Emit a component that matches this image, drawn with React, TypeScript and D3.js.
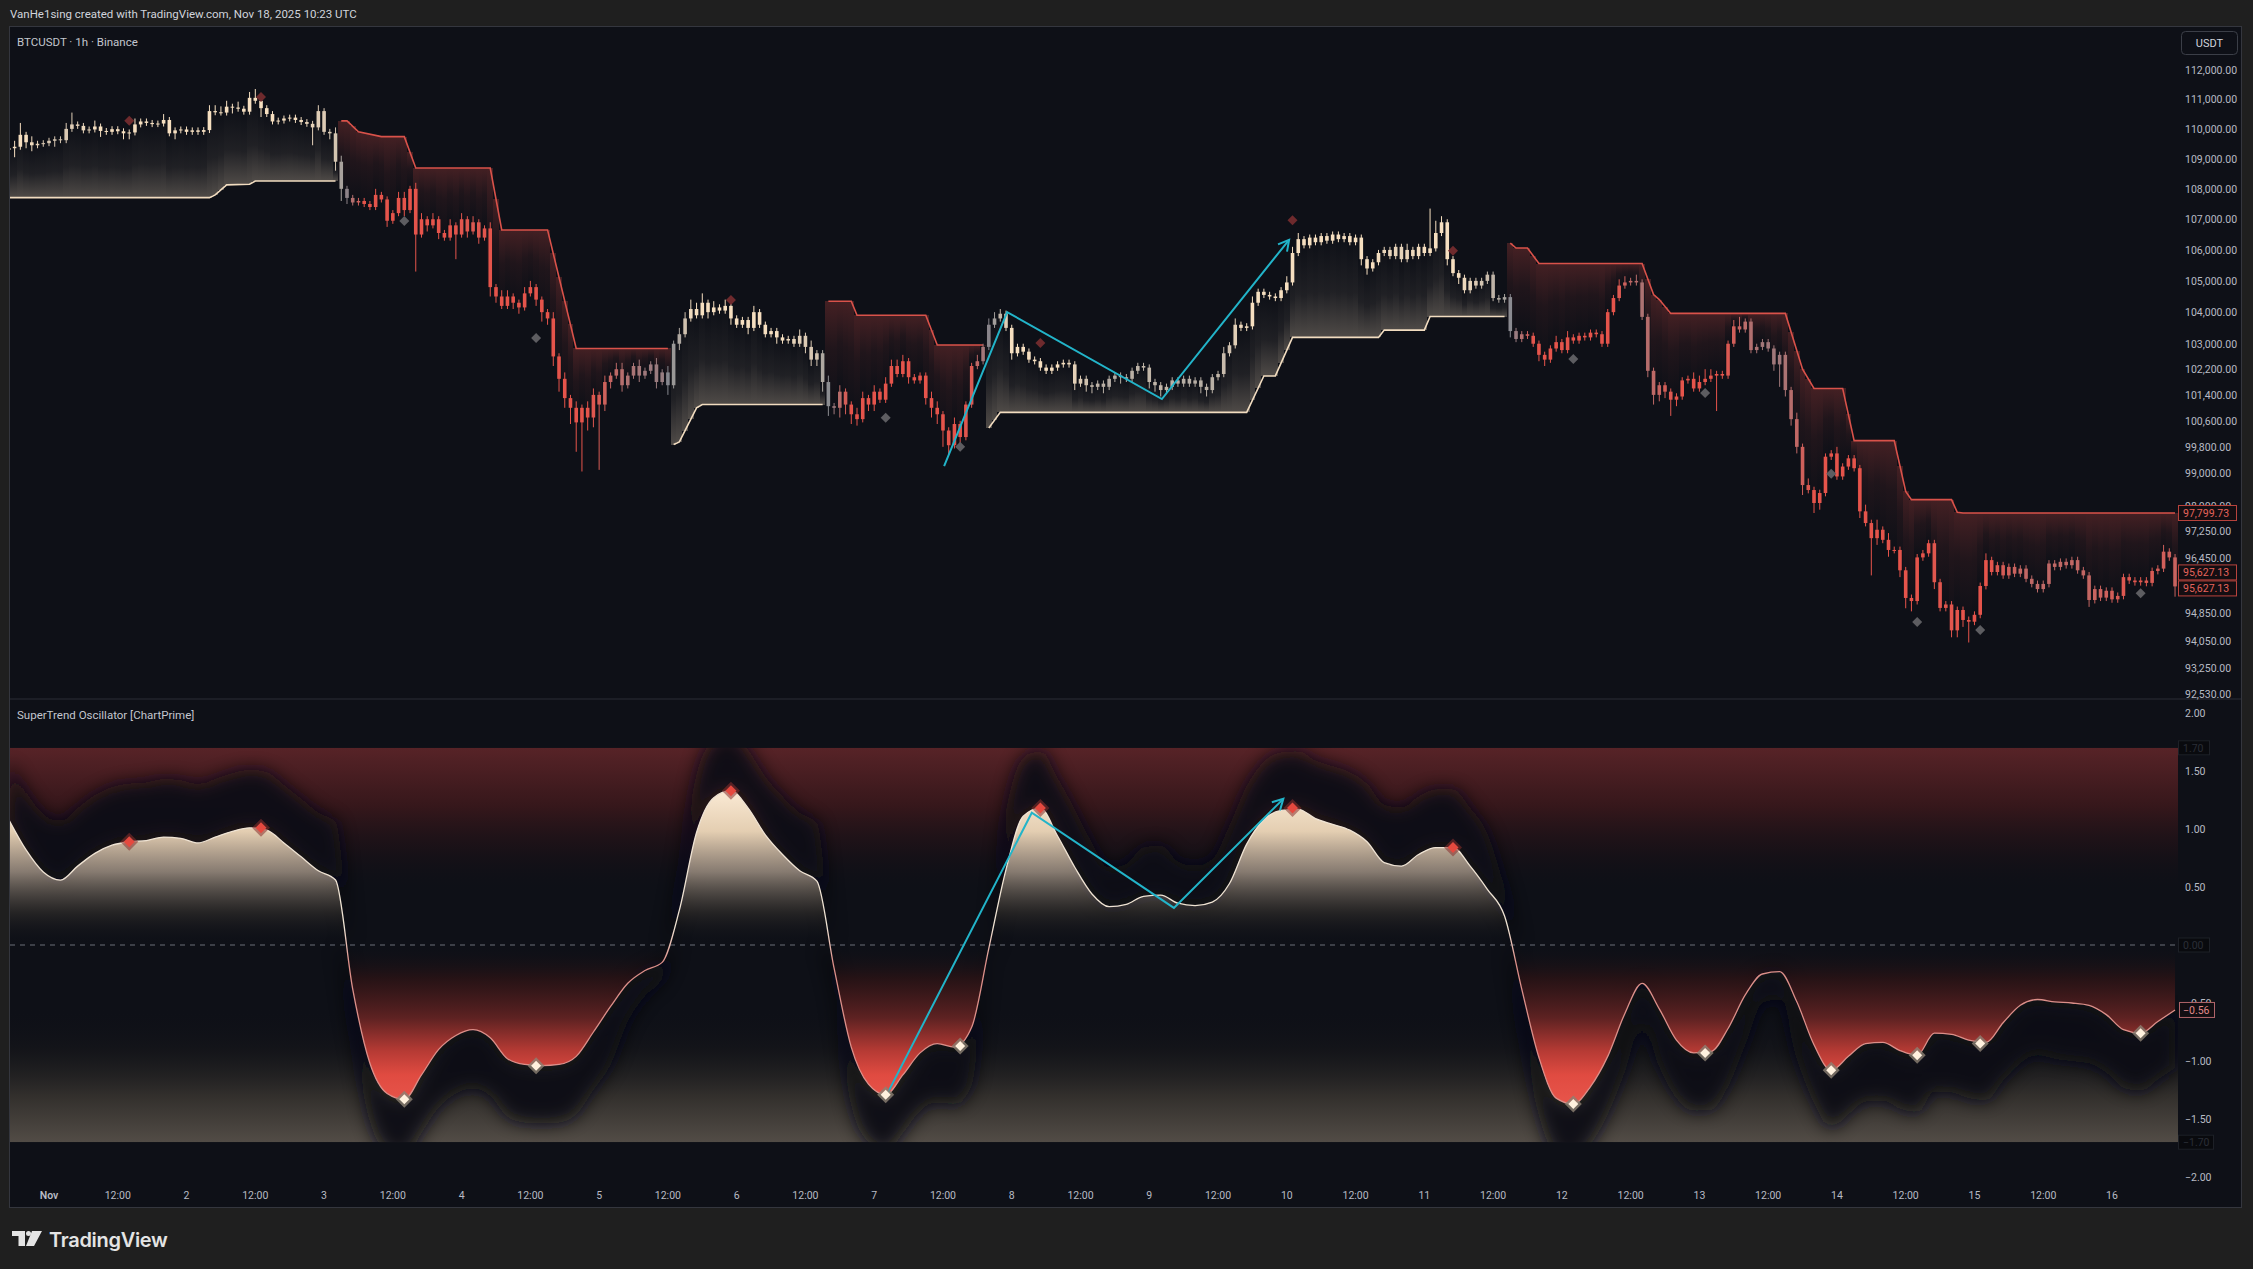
import * as d3 from 'd3';

// hourly bars, hour 0 = Nov 1 00:00
const FIRST_HOUR = -7;
const FIRST_OPEN = 109300;

const closes = [
  109350,109400,109800,109550,109450,109500,109520,109600,109650,109620,110000,110150,
  110100,109950,109980,110080,109930,109900,109990,109920,109850,109880,110150,110250,
  110200,110160,110180,110300,109850,109950,109980,109900,109950,109900,109960,110600,
  110560,110550,110750,110720,110680,110580,111050,110950,110700,110500,110250,110280,
  110350,110380,110300,110230,110170,110050,110600,109900,109850,108900,108000,107700,
  107550,107600,107500,107400,107800,107650,106950,107200,107700,107300,108000,106500,
  107000,106800,107000,106550,106400,106800,106500,107000,106600,106900,106400,106700,
  104800,104500,104200,104500,104300,104150,104600,104800,104400,104000,103800,102600,
  101900,101300,101000,100550,101000,100700,101400,101100,101800,102000,102200,101700,
  102000,102300,102000,102150,102350,101800,102100,101700,103000,103300,103800,104100,
  103900,104300,104000,104150,104050,104200,103800,103600,103750,103500,104000,103600,
  103300,103400,103200,103100,103150,103000,103250,102900,102500,102700,101800,101050,
  101000,101500,101100,100800,100650,101300,101100,101500,101250,101750,102300,102050,
  102450,101950,101850,102000,101300,101000,100800,100300,99850,100500,100100,101100,
  102300,102450,102900,103600,103800,103950,103500,102700,102900,102750,102500,102450,
  102250,102150,102250,102350,102400,102350,101750,101900,101700,101650,101750,101650,
  101900,102000,101950,101900,102150,102300,102250,101800,101700,101550,101650,101850,
  101750,101900,101750,101850,101650,101550,101950,102050,102700,102950,103600,103500,
  103550,104300,104650,104550,104500,104450,104700,104950,105900,106350,106150,106400,
  106250,106450,106300,106500,106350,106450,106250,106400,105700,105400,105600,105900,
  106000,105800,106100,105700,106000,105800,106100,105900,106050,106550,106900,105700,
  105250,105100,104700,105000,104850,105000,105200,104450,104400,104480,103400,103150,
  103300,103250,103000,102650,102500,102850,103050,102800,103200,103100,103250,103200,
  103350,103300,103000,104000,104450,104850,104950,105000,104950,103850,102150,101400,
  101700,101500,101250,101350,101850,101900,101600,101800,101900,102000,102050,102000,
  103000,103550,103450,103700,102800,102900,103050,102850,102350,102650,101550,100650,
  99800,98640,98490,98100,98400,99500,99600,98900,99200,99450,99150,97850,
  97500,97050,97300,97000,96700,96700,96100,95290,95200,96480,96600,96900,
  95750,95000,95100,94350,94940,94650,94600,94800,95640,96400,96050,96250,
  95950,96200,96000,96150,95850,95700,95550,95700,96300,96200,96350,96250,
  96400,96100,95950,95230,95550,95300,95500,95250,95350,95900,95800,95750,
  95800,95730,96080,96150,96650,96480,95627.13,
];

// wick length beyond the body, in hundreds of USD
const wickUp = [
  1,2,4,1,2,1,1,1,1,1,2,4, 1,1,1,2,1,1,1,1,1,1,2,1, 1,1,1,2,1,1,1,1,1,1,1,2,
  2,2,2,1,2,1,2,3,1,1,1,1, 1,1,1,1,1,1,2,1,1,2,2,1, 1,1,1,1,2,1,1,1,2,2,1,2,
  2,1,2,1,1,2,1,2,1,2,1,1, 2,1,2,2,1,1,2,2,1,1,1,2, 1,2,1,2,1,2,2,1,2,1,2,2,
  1,1,2,1,1,2,1,2,1,2,2,3, 2,3,1,2,1,2,1,1,1,1,2,1, 1,1,1,1,1,1,2,1,2,1,1,2,
  1,2,1,1,2,2,1,2,1,2,2,2, 2,1,1,1,1,2,2,1,1,2,1,1, 1,2,1,2,2,1.5,1,1,1,1,1,1,
  1,1,1,1,1,1,1,1,1,1,1,1, 1,1,1,1,1,1,1,1,1,1,1,1, 1,1,1,1,1,1,1,1,2,1,2,1,
  1,2,1,1,1,1,1,2,2,2,1,1, 1,1,1,1,1,1,1,1,1,1,1,1, 1,1,1,1,2,1,1,1,13,4,2,1,
  1,1,1,1,1,1,1,1,1,1,1,1, 1,1,1,1,1,1,2,1,2,1,1,1, 1,1,1,1,1,2,2,1,2,1,1,1,
  1,1,1,1,1,1,2,2,3,2,1,1, 1,2,3,1,1,1,1,1,1,1,1,1, 2,1,2,1,1,1,1,2,1,1,1,1,
  2,1,3,1,2,1,1,1,1,1,1,1, 1,1,1,1,1,1,1,1,1,2,1,1, 1,1,1,1,1,1,1,1,1,1,1,1,
  1,1,1,1,1,1,1,1,1,1,1,1, 1,1,1,1,2,1,1,
];
const wickDn = [
  2,3,1,2,2,1,1,1,2,1,1,1, 1,1,1,1,2,1,1,1,2,2,1,1, 1,1,1,1,1,2,1,1,1,1,1,1,
  1,1,1,2,1,1,1,1,3,1,1,1, 1,1,1,1,1,6,1,1,2,3,4,2, 1,1,1,1,1,1,2,1,1,2,1,12,
  1,2,1,2,1,1,8,1,2,1,2,1, 3,2,1,1,2,2,1,1,2,3,2,3, 4,3,5,9,15,4,3,20,2,2,1,2,
  1,1,2,1,1,2,1,3,1,2,1,1, 1,1,2,1,1,1,2,1,1,2,1,1, 1,1,2,1,1,1,1,2,2,2,3,3,
  2,3,3,3,2,1,2,2,1,1,1,1, 1,2,1,1,2,3,3,5,3,1,2,1, 1,1,1,1,1,1,1,2,1,1,1,1,
  1,1,1,1,1,1,2,1,2,2,1,2, 1,1,2,1,1,1,1,2,2,2,1,1, 1,1,1,1,2,2,1,1,1,1,1,1,
  1,1,1,1,1,1,1,1,1,1,1,1, 1,1,1,1,1,1,1,1,2,2,1,1, 1,1,1,1,1,1,1,1,1,1,1,2,
  1,2,1,1,1,1,1,1,1,1,2,1, 1,1,1,2,2,1,1,1,1,1,1,1, 1,1,1,1,1,1,1,1,1,1,2,3,
  2,2,5,2,1,1,1,1,1,1,11,1, 1,1,1,1,1,1,1,1,2,7,2,2, 2,3,1,3,2,1,1,1,1,1,1,2,
  1,11,2,1,2,1,2,3,3,1,1,1, 2,1,1,2,2,2,6,1,1,1,1,1, 1,1,1,1,1,1,1,1,1,1,1,1,
  1,1,1,2,1,1,1,1,1,1,1,1, 1,1,1,1,1,1,3,
];

// SuperTrend legs as [hour, price] vertices
const stBullA = [[-7,107710],[28,107710],[29,107800],[31,108130],[35,108150],[36,108260],[50,108260]];
const stBearA = [[51,110270],[52,110270],[54,109900],[58,109740],[62,109740],[64,108690],[77,108690],[79,106650],[87,106650],[92,102850],[108,102850]];
const stBullB = [[109,99870],[110,99950],[113,101000],[114,101100],[135,101100]];
const stBearB = [[136,104350],[140,104350],[141,103900],[153,103900],[155,102960],[163,102960]];
const stBullC = [[164,100380],[166,100860],[209,100860],[212,101990],[214,101990],[217,103200],[232,103200],[233,103430],[240,103430],[241,103860],[254,103860]];
const stBearC = [[255,106220],[256,106060],[258,106060],[260,105560],[278,105560],[280,104560],[281,104400],[283,103960],[303,103960],[306,102200],[308,101600],[313,101600],[315,99990],[322,99990],[324,98450],[325,98200],[332,98200],[333,97820],[334,97800],[371,97800]];

const stLegs = [
  { dir: 1, from: -7, to: 50, pts: stBullA },
  { dir: -1, from: 51, to: 108, pts: stBearA },
  { dir: 1, from: 109, to: 135, pts: stBullB },
  { dir: -1, from: 136, to: 163, pts: stBearB },
  { dir: 1, from: 164, to: 254, pts: stBullC },
  { dir: -1, from: 255, to: 371, pts: stBearC },
];

const peakMarks = [[14,110270],[37,111080],[119,104390],[173,103020],[217,106970],[245,105970]];
const troughMarks = [[62,106940],[85,103180],[146,100690],[159,99800],[266,102520],[289,101460],[311,98980],[326,94590],[337,94360],[365,95430]];
const priceZig = [[156.2,99215],[167.2,104002],[194.2,101270],[216.4,106330]];

// oscillator, one sample every 3 hours from hour -7
const OSC_FIRST_HOUR = -7;
const OSC_STEP = 3;
const oscValues = [
  1.08,0.82,0.63,0.56,0.68,0.79,0.86,0.89,0.90,0.93,0.92,0.88,0.93,0.98,1.01,0.99,
  0.88,0.76,0.64,0.56,-0.38,-1.02,-1.28,-1.33,-1.12,-0.90,-0.78,-0.73,-0.80,-0.98,-1.03,-1.04,
  -1.03,-0.96,-0.75,-0.53,-0.33,-0.22,-0.15,0.30,0.97,1.27,1.33,1.18,0.95,0.78,0.64,0.55,
  -0.20,-0.88,-1.20,-1.29,-1.12,-0.93,-0.85,-0.88,-0.71,-0.03,0.65,1.11,1.18,0.94,0.67,0.44,
  0.33,0.35,0.42,0.43,0.36,0.34,0.37,0.53,0.87,1.08,1.16,1.17,1.09,1.04,0.99,0.89,
  0.71,0.68,0.78,0.84,0.84,0.68,0.48,0.25,-0.38,-0.97,-1.32,-1.37,-1.22,-0.96,-0.59,-0.33,
  -0.55,-0.82,-0.93,-0.92,-0.72,-0.43,-0.25,-0.23,-0.49,-0.86,-1.08,-0.96,-0.85,-0.84,-0.91,-0.95,
  -0.76,-0.77,-0.82,-0.84,-0.67,-0.52,-0.47,-0.49,-0.50,-0.52,-0.60,-0.73,-0.76,-0.66,-0.56,
];
const oscPeaks = [[14,0.89],[37,1.01],[119,1.33],[173,1.18],[217,1.18],[245,0.84]];
const oscTroughs = [[62,-1.33],[85,-1.04],[146,-1.29],[159,-0.87],[266,-1.37],[289,-0.93],[311,-1.08],[326,-0.95],[337,-0.85],[365,-0.76]];
const oscZig = [[146.2,-1.29],[171.5,1.14],[196.3,0.32],[215.4,1.26]];

const priceTicks = [112000,111000,110000,109000,108000,107000,106000,105000,104000,103000,102200,101400,100600,99800,99000,98000,97250,96450,94850,94050,93250,92530];
const oscTicks = [2,1.5,1,0.5,-0.5,-1,-1.5,-2];
const oscLevelBoxes = [1.7,0,-1.7];
const lastPriceLabels = [97799.73,95627.13,95627.13];
const LAST_OSC = -0.56;
const timeLabels = ['Nov','12:00','2','12:00','3','12:00','4','12:00','5','12:00','6','12:00','7','12:00','8','12:00','9','12:00','10','12:00','11','12:00','12','12:00','13','12:00','14','12:00','15','12:00','16'];

const FONT = "Roboto, 'Noto Sans', sans-serif";
const BG = '#0e1017';
const GRAY = '#85878e';
const CREAM = '#f6dfc0';
const RED = '#e5544b';
const CYAN = '#22b4c9';
const AXIS_TXT = '#b8bbc4';

const PLOT_L = 10, PLOT_R = 2178;

const diamond = (cx: number, cy: number, r: number) =>
  `M${cx},${cy - r}L${cx + r},${cy}L${cx},${cy + r}L${cx - r},${cy}Z`;

function arrowHead(p0: number[], p1: number[], len = 12, ang = 0.5) {
  const a = Math.atan2(p1[1] - p0[1], p1[0] - p0[0]);
  const w1 = [p1[0] - len * Math.cos(a - ang), p1[1] - len * Math.sin(a - ang)];
  const w2 = [p1[0] - len * Math.cos(a + ang), p1[1] - len * Math.sin(a + ang)];
  return `M${w1[0]},${w1[1]}L${p1[0]},${p1[1]}L${w2[0]},${w2[1]}`;
}

export default function App() {
  const x = d3.scaleLinear().domain([0, 360]).range([49, 2112]);
  const yP = d3.scaleLog().domain([92530, 112000]).range([694, 70]);
  const yO = d3.scaleLinear().domain([-2, 2]).range([1177, 713]);
  const fmtP = d3.format(',.2f');
  const fmtO = d3.format('.2f');
  const step = x(1) - x(0);

  const oscPts = oscValues.map((v, i) => ({ h: OSC_FIRST_HOUR + i * OSC_STEP, v }));
  const oscAt = d3.scaleLinear().domain(oscPts.map(d => d.h)).range(oscPts.map(d => d.v)).clamp(true);

  const bars = closes.map((c, i) => {
    const h = FIRST_HOUR + i;
    const o = i === 0 ? FIRST_OPEN : closes[i - 1];
    const hi = Math.max(o, c) + wickUp[i] * 100;
    const lo = Math.min(o, c) - wickDn[i] * 100;
    const leg = stLegs.find(l => h >= l.from && h <= l.to) || stLegs[0];
    const stScale = d3.scaleLinear().domain(leg.pts.map(p => p[0])).range(leg.pts.map(p => p[1])).clamp(true);
    const v = oscAt(h);
    const t = Math.min(1, Math.abs(v) / 0.8);
    const color = v >= 0 ? d3.interpolateRgb(GRAY, CREAM)(t) : d3.interpolateRgb(GRAY, RED)(t);
    return { h, o, c, hi, lo, dir: leg.dir, st: stScale(h), color };
  });

  const stLine = d3.line<number[]>().x(p => x(p[0])).y(p => yP(p[1]));
  const zigP = priceZig.map(p => [x(p[0]), yP(p[1])]);
  const zigO = oscZig.map(p => [x(p[0]), yO(p[1])]);
  const poly = d3.line<number[]>();

  type OP = { h: number; v: number };
  const oscLine = d3.line<OP>().x(d => x(d.h)).y(d => yO(d.v)).curve(d3.curveMonotoneX);
  const oscArea = d3.area<OP>().x(d => x(d.h)).y0(yO(0)).y1(d => yO(d.v)).curve(d3.curveMonotoneX);
  // dark halo on the outer side of the line, tapering to nothing at zero crossings
  const thick = (v: number) => Math.max(0, Math.min(0.5, v));
  const shadowUp = d3.area<OP>().x(d => x(d.h))
    .y0(d => yO(Math.max(d.v, 0))).y1(d => yO(Math.max(d.v, 0) + thick(d.v))).curve(d3.curveMonotoneX);
  const shadowDn = d3.area<OP>().x(d => x(d.h))
    .y0(d => yO(Math.min(d.v, 0))).y1(d => yO(Math.min(d.v, 0) - thick(-d.v))).curve(d3.curveMonotoneX);

  const z = yO(0);

  return (
    <svg width={2253} height={1269} style={{ position: 'absolute', left: 0, top: 0, display: 'block' }} fontFamily={FONT}>
      <defs>
        <clipPath id="pricePlot"><rect x={PLOT_L} y={27} width={PLOT_R - PLOT_L} height={671} /></clipPath>
        <clipPath id="oscBand"><rect x={PLOT_L} y={yO(1.7)} width={PLOT_R - PLOT_L} height={yO(-1.7) - yO(1.7)} /></clipPath>
        <clipPath id="oscPos"><rect x={PLOT_L} y={700} width={PLOT_R - PLOT_L} height={z - 700} /></clipPath>
        <clipPath id="oscNeg"><rect x={PLOT_L} y={z} width={PLOT_R - PLOT_L} height={1200 - z} /></clipPath>
        <clipPath id="oscPlot"><rect x={PLOT_L} y={700} width={PLOT_R - PLOT_L} height={500} /></clipPath>
        <linearGradient id="bullFill" x1="0" y1="0" x2="0" y2="1">
          <stop offset="0" stopColor="#d9c7ae" stopOpacity={0} />
          <stop offset="0.55" stopColor="#d9c7ae" stopOpacity={0.09} />
          <stop offset="1" stopColor="#d9c7ae" stopOpacity={0.32} />
        </linearGradient>
        <linearGradient id="bearFill" x1="0" y1="0" x2="0" y2="1">
          <stop offset="0" stopColor="#c24540" stopOpacity={0.3} />
          <stop offset="0.45" stopColor="#c24540" stopOpacity={0.1} />
          <stop offset="1" stopColor="#c24540" stopOpacity={0} />
        </linearGradient>
        <linearGradient id="topBand" gradientUnits="userSpaceOnUse" x1="0" y1={yO(1.7)} x2="0" y2={yO(0.45)}>
          <stop offset="0" stopColor="#572327" />
          <stop offset="0.4" stopColor="#36171b" />
          <stop offset="0.75" stopColor="#1c1117" stopOpacity={0.55} />
          <stop offset="1" stopColor={BG} stopOpacity={0} />
        </linearGradient>
        <linearGradient id="botBand" gradientUnits="userSpaceOnUse" x1="0" y1={yO(-1.7)} x2="0" y2={yO(-0.55)}>
          <stop offset="0" stopColor="#524c46" />
          <stop offset="0.35" stopColor="#322f2c" />
          <stop offset="0.7" stopColor="#18181b" stopOpacity={0.55} />
          <stop offset="1" stopColor={BG} stopOpacity={0} />
        </linearGradient>
        <linearGradient id="posFill" gradientUnits="userSpaceOnUse" x1="0" y1={yO(1.4)} x2="0" y2={z}>
          <stop offset="0" stopColor="#fff0dc" />
          <stop offset="0.3" stopColor="#ecd6b8" stopOpacity={0.96} />
          <stop offset="0.55" stopColor="#a8998a" stopOpacity={0.78} />
          <stop offset="0.8" stopColor="#3d3832" stopOpacity={0.5} />
          <stop offset="1" stopColor={BG} stopOpacity={0} />
        </linearGradient>
        <linearGradient id="negFill" gradientUnits="userSpaceOnUse" x1="0" y1={z} x2="0" y2={yO(-1.4)}>
          <stop offset="0" stopColor={BG} stopOpacity={0} />
          <stop offset="0.2" stopColor="#2b1315" stopOpacity={0.8} />
          <stop offset="0.45" stopColor="#5e2222" />
          <stop offset="0.65" stopColor="#b53a34" />
          <stop offset="0.8" stopColor="#e04b41" />
          <stop offset="1" stopColor="#e9564c" />
        </linearGradient>
        <linearGradient id="oscStroke" gradientUnits="userSpaceOnUse" x1="0" y1={yO(0.15)} x2="0" y2={yO(-0.15)}>
          <stop offset="0" stopColor="#efe3d3" />
          <stop offset="1" stopColor="#dc8f89" />
        </linearGradient>
        <filter id="soft" filterUnits="userSpaceOnUse" x={0} y={690} width={2253} height={520}>
          <feGaussianBlur stdDeviation={9} />
        </filter>
      </defs>

      <rect width={2253} height={1269} fill="#1f1f1f" />
      <text x={10} y={18} fontSize={11.5} fill="#d1d4dc">VanHe1sing created with TradingView.com, Nov 18, 2025 10:23 UTC</text>
      <rect x={9.5} y={26.5} width={2232} height={1181} fill={BG} stroke="#34363e" />
      <line x1={10} x2={2241} y1={699} y2={699} stroke="#2a2d36" />

      {/* price pane */}
      <g clipPath="url(#pricePlot)">
        <g shapeRendering="crispEdges">
          {bars.map(b => {
            const yl = yP(b.st), yc = yP(b.c);
            return (
              <rect key={'f' + b.h} x={x(b.h) - step / 2} width={step} y={Math.min(yl, yc)} height={Math.abs(yl - yc)}
                fill={b.dir > 0 ? 'url(#bullFill)' : 'url(#bearFill)'} />
            );
          })}
        </g>
        {stLegs.map((l, i) => (
          <path key={'st' + i} d={stLine(l.pts) || ''} fill="none" stroke={l.dir > 0 ? '#f1dcc0' : '#d9524a'} strokeWidth={1.6} />
        ))}
        {bars.map(b => {
          const cx = x(b.h);
          const top = yP(Math.max(b.o, b.c)), bot = yP(Math.min(b.o, b.c));
          return (
            <g key={'c' + b.h} fill={b.color} stroke="none">
              <rect x={cx - 0.5} width={1} y={yP(b.hi)} height={yP(b.lo) - yP(b.hi)} />
              <rect x={cx - 1.8} width={3.6} y={top} height={Math.max(1, bot - top)} />
            </g>
          );
        })}
        {peakMarks.map(m => <path key={'pm' + m[0]} d={diamond(x(m[0]), yP(m[1]), 5)} fill="#6e2a2d" />)}
        {troughMarks.map(m => <path key={'tm' + m[0]} d={diamond(x(m[0]), yP(m[1]), 5)} fill="#5d5d61" />)}
        <path d={poly(zigP as [number, number][]) || ''} fill="none" stroke={CYAN} strokeWidth={2} />
        <path d={arrowHead(zigP[2], zigP[3])} fill="none" stroke={CYAN} strokeWidth={2} />
      </g>
      <text x={17} y={46} fontSize={11.5} fill="#c3c6ce">BTCUSDT · 1h · Binance</text>

      {/* price axis */}
      <rect x={2181.5} y={31.5} width={56} height={23} rx={4} fill={BG} stroke="#3b3e47" />
      <text x={2209.5} y={47} fontSize={11} fill="#d1d4dc" textAnchor="middle">USDT</text>
      {priceTicks.map(p => (
        <text key={'pt' + p} x={2185} y={yP(p) + 3.8} fontSize={10.5} fill={AXIS_TXT}>{fmtP(p)}</text>
      ))}
      {lastPriceLabels.map((p, i) => {
        const cy = i === 0 ? yP(p) : yP(p) + (i === 1 ? -14 : 2);
        return (
          <g key={'lp' + i}>
            <rect x={2178.5} y={cy - 7.5} width={58} height={15} fill="#140e12" stroke="#b8433d" />
            <text x={2183} y={cy + 3.8} fontSize={10.5} fill="#e5645c">{fmtP(p)}</text>
          </g>
        );
      })}

      {/* oscillator pane */}
      <text x={17} y={719} fontSize={11.5} fill="#c3c6ce">SuperTrend Oscillator [ChartPrime]</text>
      <g clipPath="url(#oscBand)">
        <rect x={PLOT_L} y={yO(1.7)} width={PLOT_R - PLOT_L} height={yO(0.45) - yO(1.7)} fill="url(#topBand)" />
        <rect x={PLOT_L} y={yO(-0.55)} width={PLOT_R - PLOT_L} height={yO(-1.7) - yO(-0.55)} fill="url(#botBand)" />
        <g filter="url(#soft)" fill={BG} opacity={0.95}>
          <path d={shadowUp(oscPts) || ''} />
          <path d={shadowDn(oscPts) || ''} />
        </g>
      </g>
      <g clipPath="url(#oscPos)">
        <path d={oscArea(oscPts) || ''} fill="url(#posFill)" />
      </g>
      <g clipPath="url(#oscNeg)">
        <path d={oscArea(oscPts) || ''} fill="url(#negFill)" />
      </g>
      <line x1={PLOT_L} x2={PLOT_R} y1={z} y2={z} stroke="#6b6e78" strokeDasharray="5 5" strokeWidth={1} />
      <g clipPath="url(#oscPlot)">
        <path d={oscLine(oscPts) || ''} fill="none" stroke="url(#oscStroke)" strokeWidth={1.3} />
        <path d={poly(zigO as [number, number][]) || ''} fill="none" stroke={CYAN} strokeWidth={2} />
        <path d={arrowHead(zigO[2], zigO[3])} fill="none" stroke={CYAN} strokeWidth={2} />
        {oscPeaks.map(m => (
          <g key={'op' + m[0]}>
            <path d={diamond(x(m[0]), yO(m[1]), 9)} fill="#8a2f2d" opacity={0.55} />
            <path d={diamond(x(m[0]), yO(m[1]), 5.5)} fill="#e5493f" />
          </g>
        ))}
        {oscTroughs.map(m => (
          <g key={'ot' + m[0]}>
            <path d={diamond(x(m[0]), yO(m[1]), 8.5)} fill="#8c8173" opacity={0.8} />
            <path d={diamond(x(m[0]), yO(m[1]), 5)} fill="#fff1de" />
          </g>
        ))}
      </g>

      {/* oscillator axis */}
      {oscTicks.map(v => (
        <text key={'ot' + v} x={2185} y={yO(v) + 3.8} fontSize={10.5} fill={AXIS_TXT}>{fmtO(v)}</text>
      ))}
      {oscLevelBoxes.map(v => (
        <g key={'lb' + v}>
          <rect x={2178.5} y={yO(v) - 7} width={v < 0 ? 35 : 31} height={14} fill="#090a0e" stroke="#1d2027" />
          <text x={2183} y={yO(v) + 3.8} fontSize={10.5} fill="#2b2e37">{fmtO(v)}</text>
        </g>
      ))}
      <rect x={2179.5} y={yO(LAST_OSC) - 7.5} width={35} height={15} fill="#120e12" stroke="#b0646a" />
      <text x={2183} y={yO(LAST_OSC) + 3.8} fontSize={10.5} fill="#e0898a">{fmtO(LAST_OSC)}</text>

      {/* time axis */}
      {timeLabels.map((t, i) => (
        <text key={'tl' + i} x={x(i * 12)} y={1199} fontSize={10.5} fill={AXIS_TXT} textAnchor="middle"
          fontWeight={t === 'Nov' ? 600 : 400}>{t}</text>
      ))}

      {/* footer logo */}
      <g fill="#e4e4e4">
        <path d="M12,1231H25V1246H18.5V1236H12Z" />
        <circle cx={28.5} cy={1233.5} r={2.5} />
        <path d="M32,1231H42L34,1246H26Z" />
        <text x={49} y={1247} fontSize={20} fontWeight={600} fontFamily="Inter, Roboto, sans-serif" letterSpacing={-0.3}>TradingView</text>
      </g>
    </svg>
  );
}
